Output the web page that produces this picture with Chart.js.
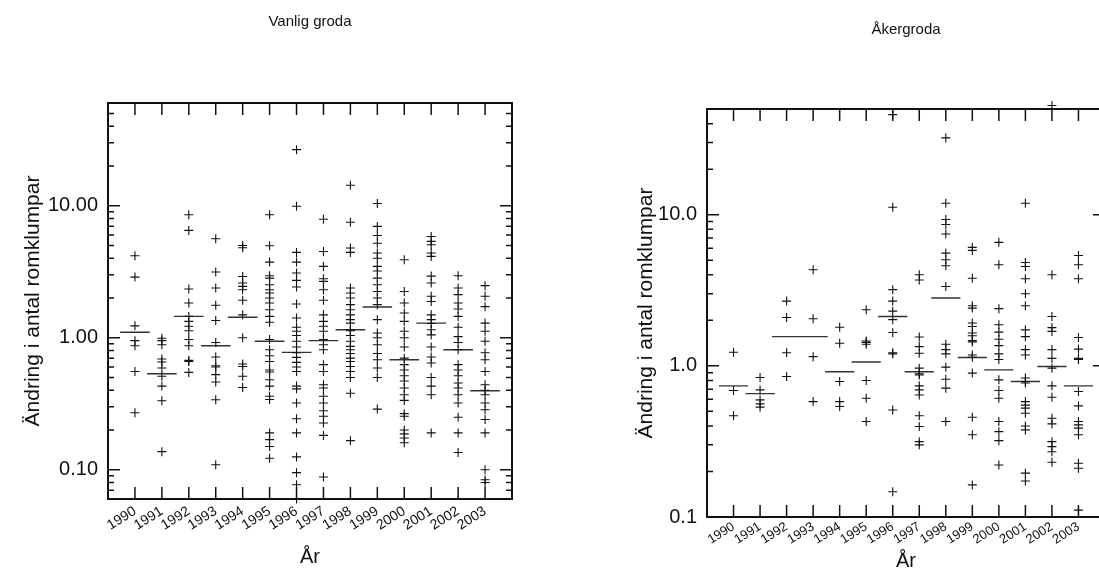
<!DOCTYPE html>
<html><head><meta charset="utf-8">
<script src="https://cdn.jsdelivr.net/npm/chart.js@4.4.1/dist/chart.umd.min.js"></script>
<style>
html,body{margin:0;padding:0;overflow:hidden;background:#fff;width:1099px;height:575px;}
canvas{position:absolute;top:0;}
#c1{left:0;}
#c2{left:560px;}
</style></head>
<body>
<canvas id="c1" width="540" height="575"></canvas>
<canvas id="c2" width="560" height="575"></canvas>
<script>
// ---------- data ----------
const years = [1990,1991,1992,1993,1994,1995,1996,1997,1998,1999,2000,2001,2002,2003];
const yearTickLabels = ['1990','1991','1992','1993','1994','1995','1996','1997','1998','1999','2000','2001','2002','2003'];

const vanligTitle = 'Vanlig groda';
const vanligValues = [
  [4.18,2.88,1.23,0.95,0.87,0.555,0.27],
  [0.99,0.95,0.885,0.69,0.655,0.59,0.51,0.43,0.333,0.137],
  [8.55,6.5,2.34,1.83,1.45,1.33,1.22,1.13,0.97,0.87,0.673,0.66,0.546],
  [5.62,3.15,2.38,1.76,1.35,0.92,0.714,0.614,0.6,0.525,0.462,0.339,0.109],
  [5.0,4.8,2.91,2.6,2.45,2.31,1.92,1.49,1.0,0.632,0.606,0.51,0.42],
  [8.55,4.97,3.74,2.95,2.83,2.52,2.31,2.18,2.0,1.83,1.63,1.45,1.31,0.97,0.81,0.73,0.66,0.57,0.55,0.48,0.43,0.36,0.34,0.19,0.169,0.15,0.122],
  [26.6,9.9,4.43,3.74,3.09,2.72,2.42,1.8,1.41,1.2,1.12,1.04,0.94,0.85,0.77,0.71,0.65,0.6,0.555,0.43,0.41,0.32,0.243,0.19,0.125,0.095,0.077,0.06],
  [7.9,4.5,3.47,2.8,2.67,2.31,1.92,1.49,1.33,1.22,1.12,0.97,0.885,0.81,0.625,0.555,0.44,0.416,0.36,0.32,0.28,0.254,0.226,0.182,0.088],
  [14.3,7.5,4.78,4.43,2.38,2.18,2.0,1.78,1.63,1.49,1.37,1.29,1.15,1.13,1.04,0.94,0.86,0.81,0.76,0.70,0.66,0.606,0.555,0.5,0.38,0.166],
  [10.4,6.97,5.95,5.2,4.38,4.0,3.47,3.2,2.83,2.52,2.24,2.0,1.78,1.37,1.085,1.0,0.885,0.76,0.68,0.59,0.5,0.288],
  [3.9,2.24,1.83,1.54,1.33,1.12,1.0,0.85,0.70,0.625,0.57,0.515,0.47,0.416,0.37,0.335,0.266,0.254,0.2,0.187,0.174,0.16],
  [5.84,5.37,5.06,4.38,4.13,2.93,2.6,2.06,1.88,1.49,1.37,1.28,1.15,1.05,0.85,0.714,0.643,0.5,0.43,0.37,0.19],
  [2.95,2.38,2.12,1.83,1.65,1.45,1.2,1.02,0.92,0.81,0.625,0.57,0.515,0.454,0.416,0.37,0.32,0.25,0.19,0.135],
  [2.48,2.06,1.72,1.29,1.12,0.94,0.77,0.68,0.555,0.44,0.40,0.37,0.32,0.285,0.24,0.19,0.1,0.084,0.08]
];
const vanligMeans = [1.10,0.534,1.45,0.87,1.43,0.94,0.775,0.95,1.15,1.71,0.68,1.29,0.81,0.397];
const vanligYRange = [0.06, 60];
const vanligYTicks = [0.1, 1, 10];
const vanligYTickLabels = ['0.10','1.00','10.00'];

const akerTitle = 'Åkergroda';
const akerValues = [
  [1.23,0.686,0.467],
  [0.837,0.693,0.595,0.56,0.533],
  [2.68,2.09,1.22,0.85],
  [4.32,2.05,1.15,0.58],
  [1.8,1.41,0.787,0.58,0.538],
  [2.35,1.46,1.43,1.39,0.8,0.61,0.428],
  [45.9,11.2,3.19,2.68,2.3,2.02,1.66,1.22,1.2,0.51,0.147],
  [4.0,3.7,1.55,1.34,1.21,0.965,0.885,0.87,0.737,0.693,0.642,0.467,0.397,0.315,0.3],
  [32.2,11.9,9.28,8.6,7.45,5.57,5.03,4.59,3.35,1.39,1.28,1.2,0.98,0.816,0.712,0.428],
  [6.08,5.8,3.8,2.5,2.41,1.92,1.82,1.65,1.58,1.47,1.44,1.18,1.14,0.895,0.457,0.35,0.163],
  [6.56,4.66,2.39,1.87,1.67,1.5,1.36,1.2,1.1,0.808,0.686,0.61,0.428,0.367,0.32,0.221],
  [11.9,4.83,4.54,3.77,3.0,2.5,1.73,1.56,1.28,1.18,0.83,0.787,0.77,0.58,0.55,0.525,0.486,0.4,0.377,0.195,0.173],
  [52.7,4.0,2.12,1.79,1.69,1.28,1.12,0.965,0.737,0.62,0.45,0.413,0.315,0.292,0.27,0.23],
  [5.37,4.66,3.77,1.54,1.29,1.12,1.1,0.676,0.543,0.428,0.407,0.387,0.35,0.227,0.21,0.111]
];
const akerMeans = [0.737,0.655,1.56,1.56,0.913,1.06,2.12,0.913,2.81,1.135,0.94,0.787,0.99,0.737];
const akerYRange = [0.1, 50];
const akerYTicks = [0.1, 1, 10];
const akerYTickLabels = ['0.1','1.0','10.0'];

const yTitle = 'Ändring i antal romklumpar';
const xTitle = 'År';
const xRange = [1989, 2004];
const meanHalfWidth = 0.55;

// ---------- drawing ----------
const FONT = '"Liberation Sans", Arial, sans-serif';
const INK = '#111';

const framePlugin = {
  id: 'frame',
  afterDatasetsDraw(chart) {
    const {ctx, chartArea: a, scales: {x, y}} = chart;
    ctx.save();
    ctx.strokeStyle = INK;
    ctx.lineWidth = 2;
    ctx.strokeRect(a.left, a.top, a.right - a.left, a.bottom - a.top);
    ctx.lineWidth = 1.5;
    ctx.beginPath();
    for (const t of x.ticks) {
      const px = x.getPixelForValue(t.value);
      ctx.moveTo(px, a.bottom); ctx.lineTo(px, a.bottom - 12);
      ctx.moveTo(px, a.top); ctx.lineTo(px, a.top + 12);
    }
    const lo = Math.floor(Math.log10(y.min)), hi = Math.ceil(Math.log10(y.max));
    for (let d = lo; d <= hi; d++) {
      for (let m = 1; m <= 9; m++) {
        const v = m * Math.pow(10, d);
        if (v < y.min * 0.999 || v > y.max * 1.001) continue;
        const py = y.getPixelForValue(v);
        const len = m === 1 ? 12 : 6;
        ctx.moveTo(a.left, py); ctx.lineTo(a.left + len, py);
        ctx.moveTo(a.right, py); ctx.lineTo(a.right - len, py);
      }
    }
    ctx.stroke();
    ctx.restore();
  }
};

function buildChart(id, p) {
  const pts = [];
  p.values.forEach((arr, i) => arr.forEach(v => pts.push({x: years[i], y: v})));
  const meanPts = [];
  p.means.forEach((m, i) => {
    meanPts.push({x: years[i] - meanHalfWidth, y: m});
    meanPts.push({x: years[i] + meanHalfWidth, y: m});
    meanPts.push({x: years[i] + meanHalfWidth, y: null});
  });
  return new Chart(document.getElementById(id), {
    type: 'scatter',
    data: {datasets: [
      {type: 'scatter', data: pts, pointStyle: 'cross', pointRadius: 4.5, pointHoverRadius: 4.5,
       borderColor: INK, backgroundColor: INK, borderWidth: 1.1, clip: false},
      {type: 'line', data: meanPts, borderColor: '#333', borderWidth: 1.4, pointRadius: 0,
       spanGaps: false, fill: false, tension: 0, showLine: true}
    ]},
    options: {
      responsive: false, animation: false, devicePixelRatio: 1,
      events: [],
      layout: {padding: {left: 0, right: p.padRight, top: 0, bottom: 0}},
      plugins: {
        legend: {display: false}, tooltip: {enabled: false},
        title: {display: true, text: p.title, color: INK, fullSize: false,
                font: {family: FONT, size: 15, weight: 'normal'},
                padding: {top: p.titleTop, bottom: p.titleBottom}}
      },
      scales: {
        x: {
          type: 'linear', min: xRange[0], max: xRange[1],
          grid: {display: false, drawTicks: false}, border: {display: false},
          afterBuildTicks: s => { s.ticks = years.map(v => ({value: v})); },
          afterFit: s => { s.height = p.xAxisH; s.paddingLeft = 0; s.paddingRight = 0; },
          ticks: {autoSkip: false, minRotation: p.rot, maxRotation: p.rot, padding: p.xTickPad,
                  color: INK, font: {family: FONT, size: p.xTickSize},
                  callback: (v, i) => yearTickLabels[i]},
          title: {display: true, text: xTitle, color: INK,
                  font: {family: FONT, size: 20}, padding: {top: 0, bottom: p.xTitleBottom}}
        },
        y: {
          type: 'logarithmic', min: p.yRange[0], max: p.yRange[1],
          grid: {display: false, drawTicks: false}, border: {display: false},
          afterBuildTicks: s => { s.ticks = p.yTicks.map(v => ({value: v})); },
          afterFit: s => { s.width = p.yAxisW; s.paddingTop = 0; s.paddingBottom = 0; },
          ticks: {padding: 10, color: INK, font: {family: FONT, size: 20},
                  callback: (v, i) => p.yTickLabels[i]},
          title: {display: true, text: yTitle, color: INK,
                  font: {family: FONT, size: 21}, padding: {top: p.yTitlePad, bottom: 0}}
        }
      }
    },
    plugins: [framePlugin]
  });
}

buildChart('c1', {values: vanligValues, means: vanligMeans, title: vanligTitle,
  yRange: vanligYRange, yTicks: vanligYTicks, yTickLabels: vanligYTickLabels,
  padRight: 28, titleTop: 13, titleBottom: 72, xAxisH: 76, yAxisW: 108, yTitlePad: 21,
  rot: 32, xTickPad: 4, xTickSize: 14, xTitleBottom: 6});

buildChart('c2', {values: akerValues, means: akerMeans, title: akerTitle,
  yRange: akerYRange, yTicks: akerYTicks, yTickLabels: akerYTickLabels,
  padRight: 15, titleTop: 21, titleBottom: 70, xAxisH: 58, yAxisW: 147, yTitlePad: 74,
  rot: 32, xTickPad: 2, xTickSize: 13, xTitleBottom: 2});
</script>
</body></html>
